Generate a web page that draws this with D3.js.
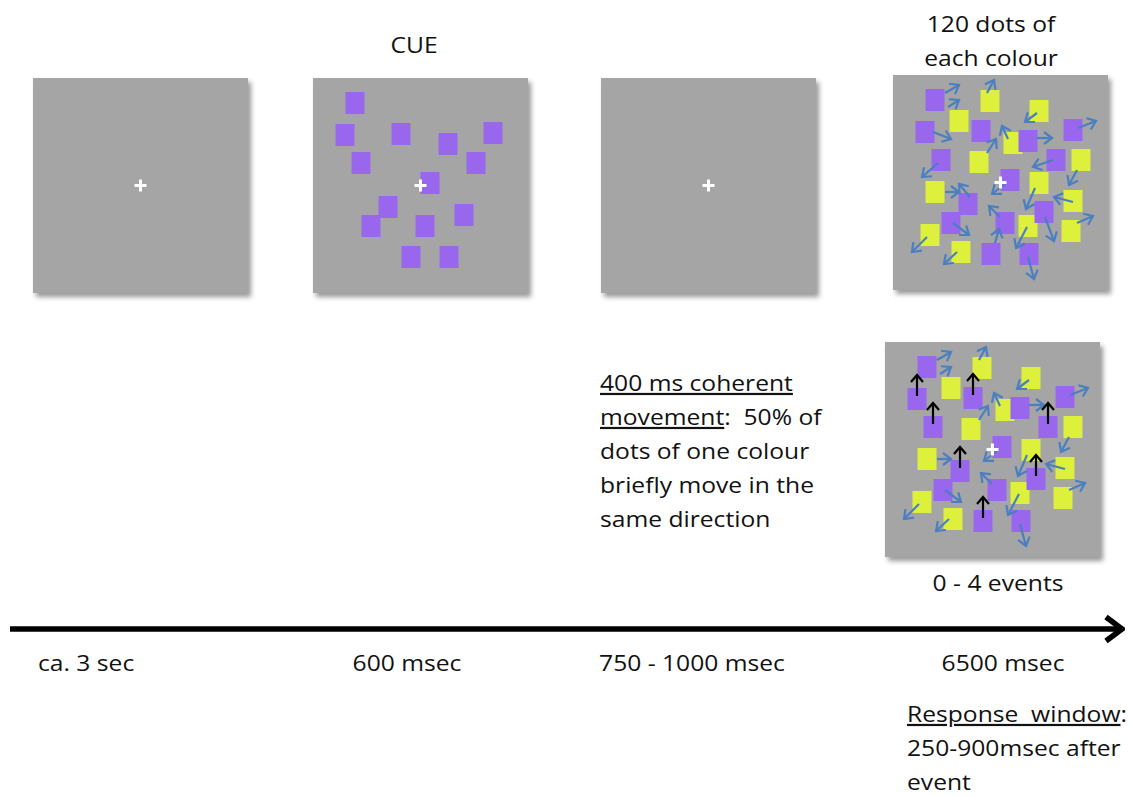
<!DOCTYPE html>
<html lang="en">
<head>
  <meta charset="UTF-8">
  <script src="https://d3js.org/d3.v7.min.js"></script>
  <title>Trial sequence</title>
  <style>
  body {
      margin: 0;
      background: #fff;
  }
  svg text {
      font-family: "Open Sans", sans-serif;
      font-size: 22px;
      fill: #111;
      white-space: pre;
  }
  tspan.under {
      text-decoration: underline;
  }
  </style>
</head>
<body>
<svg id="chart" width="1130" height="796"></svg>

<script>
  // timeline stages
  const stageLabels = ["ca. 3 sec", "600 msec", "750 - 1000 msec", "6500 msec"];

  // dot centres, in panel units (panel is 215 x 215)
  const purpleDots = [[42,25],[32,57],[88,56],[135,66],[180,55],[48,85],[163,85],
                      [117,105],[75,129],[58,148],[151,137],[112,148],[98,179],[136,179]];
  const yellowDots = [[97,26],[66,46],[146,36],[120,68],[86,87],[188,85],[42,117],
                      [146,108],[180,126],[135,151],[37,160],[68,177],[178,156]];

  // random motion arrows: owner dot, x1, y1, x2, y2
  const motionArrows = [
    ["P1",52,18,66,10], ["Y2",55,32,66,25], ["Y1",94,18,101,5], ["Y3",144,38,132,47],
    ["P2",40,57,58,64], ["P5",185,53,203,46], ["Y4",115,64,109,51], ["P4",144,63,159,63],
    ["Y5",94,78,103,64], ["P6",45,88,29,102], ["P7",160,85,140,92], ["Y6",184,95,176,110],
    ["P8",112,109,99,119], ["Y7",52,117,66,117], ["P9",77,122,66,109], ["Y8",142,113,133,134],
    ["Y9",180,127,161,122], ["P12",107,142,96,131], ["P11",152,142,161,166], ["Y13",184,148,200,141],
    ["P10",60,148,76,160], ["P13",102,168,106,154], ["Y10",134,152,123,173], ["Y11",34,162,19,177],
    ["Y12",64,177,51,189], ["P14",135,182,141,204]
  ];

  // purple dots that move together during an event (P2, P3, P6, P7, P9, P11, P13)
  const coherentDots = ["P2","P3","P6","P7","P9","P11","P13"];
  const coherentStep = [0, -21];

  const cueNote = ["120 dots of", "each colour"];
  const eventNote = [
    [{t:"400 ms coherent", u:true}],
    [{t:"movement", u:true}, {t:":  50% of"}],
    [{t:"dots of one colour"}],
    [{t:"briefly move in the"}],
    [{t:"same direction"}]
  ];
  const responseNote = [
    [{t:"Response  window", u:true}, {t:":"}],
    [{t:"250-900msec after"}],
    [{t:"event"}]
  ];

  const svg = d3.select("svg#chart");
  const panelSize = 215;
  const dotW = 19, dotH = 22;
  const stretch = 1.12;
  const colors = {panel: "#a5a5a5", purple: "#9966ee", yellow: "#dcf03c", motion: "#4a7fc0"};

  const panels = [
    {id: "fix1",  x: 33,  y: 78,  dots: false},
    {id: "cue",   x: 313, y: 78,  dots: "cue"},
    {id: "fix2",  x: 601, y: 78,  dots: false},
    {id: "rdk",   x: 893, y: 75,  dots: "rdk"},
    {id: "event", x: 885, y: 342, dots: "event"}
  ];

  const defs = svg.append("defs");
  defs.append("filter").attr("id", "shadow")
      .attr("x", "-10%").attr("y", "-10%").attr("width", "125%").attr("height", "125%")
    .append("feDropShadow")
      .attr("dx", 3).attr("dy", 4).attr("stdDeviation", 2.5)
      .attr("flood-color", "#000").attr("flood-opacity", 0.4);

  function addMarker(id, color, len, half, sw) {
    defs.append("marker").attr("id", id)
        .attr("markerUnits", "userSpaceOnUse")
        .attr("viewBox", `${-len-3} ${-half-3} ${len+6} ${2*half+6}`)
        .attr("markerWidth", len + 6).attr("markerHeight", 2*half + 6)
        .attr("refX", 0).attr("refY", 0)
        .attr("orient", "auto")
      .append("path")
        .attr("d", `M${-len},${-half}L0,0L${-len},${half}`)
        .attr("fill", "none").attr("stroke", color)
        .attr("stroke-width", sw).attr("stroke-linejoin", "miter");
  }
  addMarker("headBlue", colors.motion, 8, 6, 2.2);
  addMarker("headBlack", "#000", 7, 6, 2.2);
  addMarker("headTime", "#000", 16, 12, 5.5);

  const purple = purpleDots.map((d, i) => ({id: "P" + (i + 1), x: d[0], y: d[1]}));
  const yellow = yellowDots.map((d, i) => ({id: "Y" + (i + 1), x: d[0], y: d[1]}));
  const arrows = motionArrows.map(d => ({owner: d[0], x1: d[1], y1: d[2], x2: d[3], y2: d[4]}));

  panels.forEach(p => {
    const x = d3.scaleLinear().domain([0, panelSize]).range([p.x, p.x + panelSize]);
    const y = d3.scaleLinear().domain([0, panelSize]).range([p.y, p.y + panelSize]);
    const g = svg.append("g").attr("id", p.id);

    g.append("rect")
        .attr("x", x(0)).attr("y", y(0))
        .attr("width", x(panelSize) - x(0)).attr("height", y(panelSize) - y(0))
        .attr("fill", colors.panel)
        .attr("filter", "url(#shadow)");

    if (p.dots === "rdk" || p.dots === "event") {
      g.selectAll("rect.yellow").data(yellow).join("rect")
          .attr("class", "yellow")
          .attr("x", d => x(d.x) - dotW/2).attr("y", d => y(d.y) - dotH/2)
          .attr("width", dotW).attr("height", dotH)
          .attr("fill", colors.yellow);
    }
    if (p.dots) {
      g.selectAll("rect.purple").data(purple).join("rect")
          .attr("class", "purple")
          .attr("x", d => x(d.x) - dotW/2).attr("y", d => y(d.y) - dotH/2)
          .attr("width", dotW).attr("height", dotH)
          .attr("fill", colors.purple);
    }
    if (p.dots === "rdk" || p.dots === "event") {
      const shown = p.dots === "event" ? arrows.filter(a => !coherentDots.includes(a.owner)) : arrows;
      g.selectAll("line.motion").data(shown).join("line")
          .attr("class", "motion")
          .attr("x1", d => x(d.x1)).attr("y1", d => y(d.y1))
          .attr("x2", d => x(d.x2)).attr("y2", d => y(d.y2))
          .attr("stroke", colors.motion).attr("stroke-width", 2.2)
          .attr("marker-end", "url(#headBlue)");
    }
    if (p.dots === "event") {
      g.selectAll("line.coherent").data(purple.filter(d => coherentDots.includes(d.id))).join("line")
          .attr("class", "coherent")
          .attr("x1", d => x(d.x)).attr("y1", d => y(d.y - 3))
          .attr("x2", d => x(d.x + coherentStep[0])).attr("y2", d => y(d.y - 3 + coherentStep[1]))
          .attr("stroke", "#000").attr("stroke-width", 2.2)
          .attr("marker-end", "url(#headBlack)");
    }

    // fixation cross
    const cx = x(panelSize/2), cy = y(panelSize/2);
    g.append("path")
        .attr("d", `M${cx-6},${cy}H${cx+6}M${cx},${cy-6}V${cy+6}`)
        .attr("stroke", "#fff").attr("stroke-width", 3);
  });

  // timeline
  const timeX = d3.scaleLinear().domain([0, 1]).range([10, 1122]);
  svg.append("line")
      .attr("x1", timeX(0)).attr("x2", timeX(1))
      .attr("y1", 629).attr("y2", 629)
      .attr("stroke", "#000").attr("stroke-width", 5.5)
      .attr("marker-end", "url(#headTime)");

  function addText(x, y, anchor, parts) {
    const t = svg.append("text")
        .attr("transform", `translate(${x},${y}) scale(${stretch},1)`)
        .attr("text-anchor", anchor);
    parts.forEach(p => t.append("tspan").attr("class", p.u ? "under" : null).text(p.t));
    return t;
  }

  const stageX = [[38, "start"], [407, "middle"], [692, "middle"], [1003, "middle"]];
  stageLabels.forEach((s, i) => addText(stageX[i][0], 671, stageX[i][1], [{t: s}]));

  addText(414, 53, "middle", [{t: "CUE"}]);
  cueNote.forEach((s, i) => addText(991, 32 + i*34, "middle", [{t: s}]));
  addText(998, 591, "middle", [{t: "0 - 4 events"}]);
  eventNote.forEach((line, i) => addText(600, 391 + i*34, "start", line));
  responseNote.forEach((line, i) => addText(907, 722 + i*34, "start", line));
</script>
</body>
</html>
